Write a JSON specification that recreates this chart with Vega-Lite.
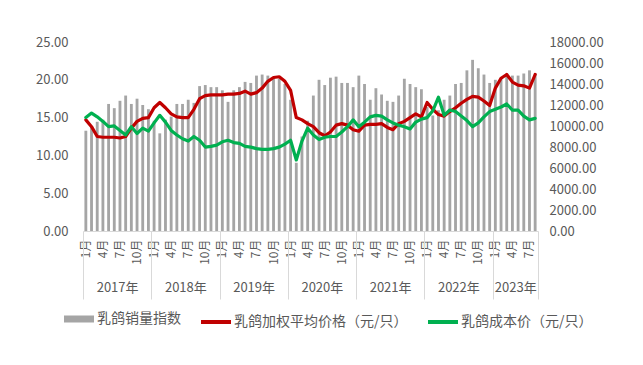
{
  "$schema": "https://vega.github.io/schema/vega-lite/v6.json",
  "width": 455,
  "height": 189,
  "autosize": {"type": "none"},
  "padding": {"left": 83, "top": 42, "right": 105, "bottom": 134},
  "background": "white",
  "config": {
    "view": {"stroke": null},
    "font": "Noto Sans CJK SC",
    "axis": {"grid": false},
    "legend": {"title": null, "labelLimit": 400}
  },
  "datasets": {
    "monthly": [
      {"month": "2017-01", "sales": 9550, "price": 14.7, "cost": 15.0},
      {"month": "2017-02", "sales": 9900, "price": 13.8, "cost": 15.6},
      {"month": "2017-03", "sales": 10400, "price": 12.5, "cost": 15.1},
      {"month": "2017-04", "sales": 10600, "price": 12.4, "cost": 14.5},
      {"month": "2017-05", "sales": 12100, "price": 12.4, "cost": 13.8},
      {"month": "2017-06", "sales": 11700, "price": 12.4, "cost": 13.9},
      {"month": "2017-07", "sales": 12400, "price": 12.3, "cost": 13.3},
      {"month": "2017-08", "sales": 12900, "price": 12.5, "cost": 12.7},
      {"month": "2017-09", "sales": 12100, "price": 13.6, "cost": 13.8},
      {"month": "2017-10", "sales": 12600, "price": 14.5, "cost": 12.9},
      {"month": "2017-11", "sales": 12000, "price": 14.9, "cost": 13.6},
      {"month": "2017-12", "sales": 11600, "price": 15.0, "cost": 13.2},
      {"month": "2018-01", "sales": 10500, "price": 16.3, "cost": 14.3},
      {"month": "2018-02", "sales": 9300, "price": 17.0, "cost": 15.3},
      {"month": "2018-03", "sales": 10600, "price": 16.3, "cost": 14.4},
      {"month": "2018-04", "sales": 10900, "price": 15.5, "cost": 13.3},
      {"month": "2018-05", "sales": 12100, "price": 15.1, "cost": 12.7},
      {"month": "2018-06", "sales": 12100, "price": 15.0, "cost": 12.2},
      {"month": "2018-07", "sales": 12500, "price": 15.0, "cost": 11.9},
      {"month": "2018-08", "sales": 12200, "price": 16.1, "cost": 12.5},
      {"month": "2018-09", "sales": 13800, "price": 17.5, "cost": 12.0},
      {"month": "2018-10", "sales": 13900, "price": 17.9, "cost": 11.1},
      {"month": "2018-11", "sales": 13700, "price": 18.0, "cost": 11.2},
      {"month": "2018-12", "sales": 13700, "price": 18.0, "cost": 11.35},
      {"month": "2019-01", "sales": 13400, "price": 18.0, "cost": 11.8},
      {"month": "2019-02", "sales": 12300, "price": 18.1, "cost": 12.0},
      {"month": "2019-03", "sales": 13400, "price": 18.1, "cost": 11.7},
      {"month": "2019-04", "sales": 13700, "price": 18.2, "cost": 11.6},
      {"month": "2019-05", "sales": 14200, "price": 18.5, "cost": 11.2},
      {"month": "2019-06", "sales": 14100, "price": 18.1, "cost": 11.1},
      {"month": "2019-07", "sales": 14800, "price": 18.3, "cost": 10.9},
      {"month": "2019-08", "sales": 14900, "price": 18.9, "cost": 10.8},
      {"month": "2019-09", "sales": 14800, "price": 19.8, "cost": 10.8},
      {"month": "2019-10", "sales": 14600, "price": 20.3, "cost": 10.9},
      {"month": "2019-11", "sales": 14500, "price": 20.4, "cost": 11.1},
      {"month": "2019-12", "sales": 14000, "price": 19.8, "cost": 11.5},
      {"month": "2020-01", "sales": 12500, "price": 18.6, "cost": 12.0},
      {"month": "2020-02", "sales": 6500, "price": 15.0, "cost": 9.4},
      {"month": "2020-03", "sales": 9000, "price": 14.7, "cost": 11.9},
      {"month": "2020-04", "sales": 10500, "price": 14.2, "cost": 13.6},
      {"month": "2020-05", "sales": 12900, "price": 13.8, "cost": 12.7},
      {"month": "2020-06", "sales": 14400, "price": 13.0, "cost": 12.1},
      {"month": "2020-07", "sales": 13900, "price": 12.6, "cost": 12.4},
      {"month": "2020-08", "sales": 14600, "price": 13.1, "cost": 12.5},
      {"month": "2020-09", "sales": 14700, "price": 14.0, "cost": 12.5},
      {"month": "2020-10", "sales": 14100, "price": 14.2, "cost": 13.1},
      {"month": "2020-11", "sales": 14100, "price": 14.0, "cost": 13.8},
      {"month": "2020-12", "sales": 13700, "price": 13.4, "cost": 14.7},
      {"month": "2021-01", "sales": 14800, "price": 13.2, "cost": 13.8},
      {"month": "2021-02", "sales": 14000, "price": 14.0, "cost": 14.4},
      {"month": "2021-03", "sales": 12500, "price": 14.1, "cost": 15.1},
      {"month": "2021-04", "sales": 13600, "price": 14.1, "cost": 15.3},
      {"month": "2021-05", "sales": 13000, "price": 14.2, "cost": 15.2},
      {"month": "2021-06", "sales": 12400, "price": 13.7, "cost": 14.7},
      {"month": "2021-07", "sales": 12300, "price": 13.4, "cost": 14.3},
      {"month": "2021-08", "sales": 12900, "price": 14.2, "cost": 14.0},
      {"month": "2021-09", "sales": 14500, "price": 14.5, "cost": 13.8},
      {"month": "2021-10", "sales": 14000, "price": 15.0, "cost": 13.5},
      {"month": "2021-11", "sales": 13700, "price": 15.5, "cost": 14.4},
      {"month": "2021-12", "sales": 13500, "price": 15.1, "cost": 14.8},
      {"month": "2022-01", "sales": 11800, "price": 17.0, "cost": 15.0},
      {"month": "2022-02", "sales": 11000, "price": 16.1, "cost": 15.9},
      {"month": "2022-03", "sales": 11500, "price": 15.4, "cost": 17.7},
      {"month": "2022-04", "sales": 12500, "price": 15.2, "cost": 15.3},
      {"month": "2022-05", "sales": 12900, "price": 15.8, "cost": 16.0},
      {"month": "2022-06", "sales": 14000, "price": 16.3, "cost": 15.8},
      {"month": "2022-07", "sales": 14100, "price": 16.9, "cost": 15.2},
      {"month": "2022-08", "sales": 15300, "price": 17.4, "cost": 14.6},
      {"month": "2022-09", "sales": 16300, "price": 17.8, "cost": 13.8},
      {"month": "2022-10", "sales": 15500, "price": 17.7, "cost": 14.3},
      {"month": "2022-11", "sales": 14900, "price": 17.2, "cost": 15.1},
      {"month": "2022-12", "sales": 14100, "price": 16.6, "cost": 15.8},
      {"month": "2023-01", "sales": 14400, "price": 18.9, "cost": 16.1},
      {"month": "2023-02", "sales": 14600, "price": 20.2, "cost": 16.4},
      {"month": "2023-03", "sales": 15000, "price": 20.7, "cost": 16.8},
      {"month": "2023-04", "sales": 14800, "price": 19.7, "cost": 16.0},
      {"month": "2023-05", "sales": 14800, "price": 19.3, "cost": 16.0},
      {"month": "2023-06", "sales": 15000, "price": 19.2, "cost": 15.2},
      {"month": "2023-07", "sales": 15300, "price": 18.9, "cost": 14.7},
      {"month": "2023-08", "sales": 15000, "price": 20.7, "cost": 14.9}
    ],
    "years": [
      {"year": "2017年", "start": 0},
      {"year": "2018年", "start": 12},
      {"year": "2019年", "start": 24},
      {"year": "2020年", "start": 36},
      {"year": "2021年", "start": 48},
      {"year": "2022年", "start": 60},
      {"year": "2023年", "start": 72}
    ]
  },
  "layer": [
    {
      "data": {"name": "monthly"},
      "layer": [
        {
          "mark": {"type": "bar", "color": "#A5A5A5"},
          "encoding": {
            "x": {
              "field": "month", "type": "ordinal",
              "scale": {"paddingInner": 0.5, "paddingOuter": 0.25},
              "axis": {
                "orient": "bottom", "title": null, "labelAngle": 270,
                "labelExpr": "indexof(['01','04','07','10'], slice(datum.value,5)) >= 0 ? toNumber(slice(datum.value,5)) + '月' : ''",
                "ticks": false, "domainColor": "#D9D9D9", "labelFontSize": 12,
                "labelColor": "#595959", "labelPadding": 8, "labelOverlap": false, "labelBound": false
              }
            },
            "y": {
              "field": "sales", "type": "quantitative",
              "scale": {"domain": [0, 18000], "nice": false},
              "axis": {
                "orient": "right", "title": null,
                "values": [0, 2000, 4000, 6000, 8000, 10000, 12000, 14000, 16000, 18000],
                "format": ".2f", "domain": false, "ticks": false, "labelPadding": 11,
                "labelFontSize": 13, "labelColor": "#595959"
              }
            },
            "color": {
              "datum": "sales",
              "title": null,
              "scale": {
                "domain": ["sales", "price", "cost"],
                "range": ["#A5A5A5", "#C00000", "#00B050"]
              },
              "legend": {
                "orient": "none", "legendX": -21, "legendY": 270,
                "direction": "horizontal", "title": null,
                "symbolType": "stroke", "symbolStrokeWidth": 4, "symbolSize": 900,
                "symbolOffset": 10,
                "labelFontSize": 14, "labelColor": "#595959", "columnPadding": 12,
                "labelOffset": 11, "labelLimit": 400,
                "labelExpr": "datum.value == 'sales' ? '乳鸽销量指数' : datum.value == 'price' ? '乳鸽加权平均价格（元/只）' : '乳鸽成本价（元/只）'",
                "encode": {
                  "symbols": {
                    "update": {
                      "stroke": {"scale": "color", "field": "value"},
                      "strokeWidth": {"signal": "datum.value == 'sales' ? 7 : 4"}
                    }
                  }
                }
              }
            }
          }
        },
        {
          "transform": [{"fold": ["price", "cost"], "as": ["series", "value"]}],
          "mark": {"type": "line", "strokeWidth": 3.2, "strokeJoin": "round", "strokeCap": "round"},
          "encoding": {
            "x": {"field": "month", "type": "ordinal"},
            "y": {
              "field": "value", "type": "quantitative",
              "scale": {"domain": [0, 25], "nice": false},
              "axis": {
                "orient": "left", "title": null, "values": [0, 5, 10, 15, 20, 25],
                "format": ".2f", "domain": false, "ticks": false, "labelPadding": 15,
                "labelFontSize": 13, "labelColor": "#595959"
              }
            },
            "color": {"field": "series", "type": "nominal", "title": null}
          }
        }
      ],
      "resolve": {"scale": {"y": "independent"}}
    },
    {
      "data": {"name": "years"},
      "mark": {"type": "point", "opacity": 0},
      "encoding": {
        "x": {
          "field": "start", "type": "quantitative",
          "scale": {"domain": [0, 80], "nice": false, "zero": false},
          "axis": {
            "orient": "bottom", "title": null, "values": [0, 12, 24, 36, 48, 60, 72, 80],
            "labels": false, "domain": false, "ticks": true, "tickSize": 68,
            "tickColor": "#D9D9D9", "tickWidth": 1, "grid": false
          }
        }
      }
    },
    {
      "data": {"name": "years"},
      "mark": {"type": "point", "opacity": 0},
      "encoding": {
        "x": {
          "field": "start", "type": "quantitative",
          "scale": {"domain": [0, 80], "nice": false, "zero": false},
          "axis": {
            "orient": "bottom", "title": null, "values": [6, 18, 30, 42, 54, 66, 76],
            "labelExpr": "(2017 + floor(datum.value / 12)) + '年'",
            "ticks": false, "domain": false, "offset": 50, "labelPadding": 0,
            "labelFontSize": 13, "labelColor": "#595959", "labelFlush": false,
            "labelOverlap": false, "grid": false
          }
        }
      }
    }
  ],
  "resolve": {"scale": {"x": "independent", "y": "independent"}}
}
